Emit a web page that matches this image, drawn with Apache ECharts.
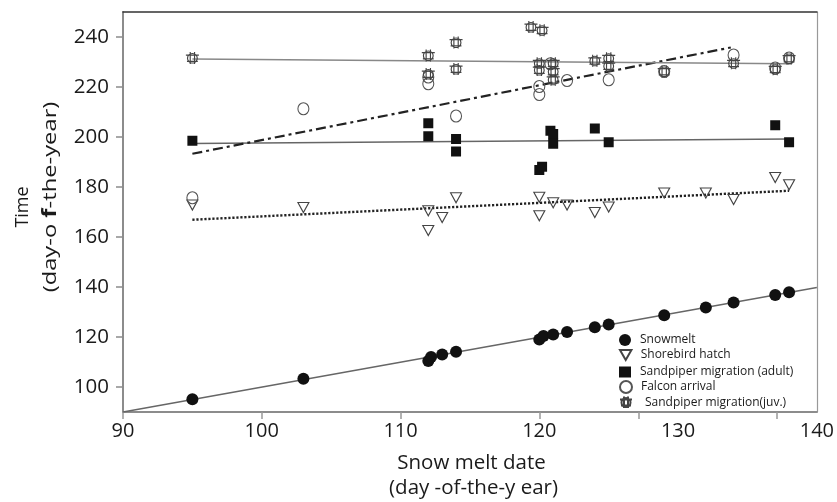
<!DOCTYPE html>
<html><head><meta charset="utf-8">
<script src="https://cdn.jsdelivr.net/npm/echarts@6/dist/echarts.min.js"></script>
<style>html,body{margin:0;padding:0;background:#fff}#c{width:837px;height:502px}</style>
</head><body><div id="c"></div>
<script>
// ---- data ----
const xTickValues = [90, 100, 110, 120, 127.2, 137.1];
const yTickValues = [100, 120, 140, 160, 180, 200, 220, 240];

const seriesNames = ['Snowmelt', 'Shorebird hatch', 'Sandpiper migration (adult)', 'Falcon arrival', 'Sandpiper migration(juv.)'];

const snowX = [95, 103, 112, 112.2, 113, 114, 120, 120.3, 121, 122, 124, 125, 129, 132, 134, 137, 138];
const snowY = [95.1, 103.3, 110.4, 112, 113, 114.1, 119, 120.4, 121, 122, 123.9, 125, 128.7, 131.8, 133.8, 136.8, 137.9];

const hatchX = [95, 103, 112, 112, 113, 114, 120, 120, 121, 122, 124, 125, 129, 132, 134, 137, 138];
const hatchY = [172.8, 171.8, 170.5, 162.6, 167.8, 175.7, 175.9, 168.5, 173.7, 172.8, 169.8, 172, 177.6, 177.6, 175, 183.8, 180.9];

const adultX = [95, 112, 112, 114, 114, 120, 120.2, 120.8, 121, 121, 124, 125, 137, 138];
const adultY = [198.5, 205.5, 200.3, 199.2, 194.2, 186.8, 188.1, 202.5, 201.2, 197.3, 203.4, 197.9, 204.7, 197.9];

const falconX = [95, 103, 112, 112, 114, 120, 120, 120.8, 122, 125, 129, 134, 137, 138];
const falconY = [175.7, 211.3, 224, 221.3, 208.4, 220.2, 217, 229.3, 222.6, 222.9, 226.2, 232.8, 227.6, 231.6];

const juvX = [95, 112, 112, 114, 114, 119.4, 120.2, 120, 120, 121, 121, 121, 124, 125, 125, 129, 134, 137, 138];
const juvY = [231.6, 232.6, 225.2, 237.8, 227.2, 244, 242.7, 229.5, 226.8, 229.5, 226.2, 222.9, 230.5, 231.5, 228.4, 226.2, 229.5, 227.1, 231.4];

// fitted lines: [x0, x1], [y0, y1]
const snowFitX = [90, 140],   snowFitY = [90, 139.8];
const hatchFitX = [95, 138],  hatchFitY = [166.9, 178.5];
const adultFitX = [95, 138],  adultFitY = [197.4, 199.2];
const falconFitX = [95, 133.8], falconFitY = [193.3, 235.8];
const juvFitX = [95, 138],    juvFitY = [231.2, 229.3];

// ---- build ----
const zip = (xs, ys) => xs.map((x, i) => [x, ys[i]]);
const FONT = '"Open Sans", "Noto Sans", sans-serif';
const juvPath = 'path://M1.5,6.5A4.5,4.5 0 1,0 10.5,6.5A4.5,4.5 0 1,0 1.5,6.5Z M0,3.5L12,3.5 M4,0.5L4,12 M8,0.5L8,12 M1,9.5L11,9.5';
const triDownPath = 'path://M0,0L12,0L6,10.5Z';

function fit(name, xs, ys, color, width, type) {
  return { name: name, type: 'line', data: zip(xs, ys), symbol: 'none', silent: true, z: 1,
    lineStyle: { color: color, width: width, type: type, cap: 'butt' } };
}

const chart = echarts.init(document.getElementById('c'), null, { renderer: 'canvas' });
const legendTops = [334, 349, 366, 380, 395.5];
const legendPad = [4, 4, 4, 4, 8];
const legendIconH = [12, 10, 11, 12, 12];

chart.setOption({
  animation: false,
  backgroundColor: '#fff',
  grid: { left: 123, right: 17, top: 12, bottom: 90 },
  legend: seriesNames.map((n, i) => ({
    data: [n], left: 619, top: legendTops[i], padding: 0, itemWidth: 12, itemHeight: legendIconH[i],
    selectedMode: false,
    textStyle: { fontFamily: FONT, fontSize: 12, color: '#1a1a1a', padding: [0, 0, 0, legendPad[i]] }
  })),
  xAxis: [{
    type: 'value', min: 90, max: 140, interval: 10,
    axisLine: { onZero: false, lineStyle: { color: '#8c8c8c', width: 2 } },
    axisTick: { customValues: xTickValues, length: 7, lineStyle: { color: '#999', width: 1.5 } },
    axisLabel: { fontFamily: FONT, fontSize: 20, color: '#1a1a1a', margin: 9 },
    splitLine: { show: false }
  }, {
    type: 'value', position: 'top', min: 90, max: 140,
    axisLine: { onZero: false, lineStyle: { color: '#333', width: 1.5 } },
    axisTick: { show: false }, axisLabel: { show: false }, splitLine: { show: false }
  }],
  yAxis: [{
    type: 'value', min: 90, max: 250, interval: 10,
    axisLine: { onZero: false, lineStyle: { color: '#8c8c8c', width: 2 } },
    axisTick: { customValues: yTickValues, length: 7, lineStyle: { color: '#8c8c8c', width: 1.5 } },
    axisLabel: { customValues: yTickValues, fontFamily: FONT, fontSize: 20.5, color: '#1a1a1a', margin: 14 },
    splitLine: { show: false }
  }, {
    type: 'value', position: 'right', min: 90, max: 250,
    axisLine: { onZero: false, lineStyle: { color: '#999', width: 1.2 } },
    axisTick: { show: false }, axisLabel: { show: false }, splitLine: { show: false }
  }],
  graphic: [
    { type: 'text', x: 23, y: 207, rotation: Math.PI / 2,
      style: { text: 'Time', font: '18px ' + FONT, fill: '#1a1a1a', textAlign: 'center', textVerticalAlign: 'middle', align: 'center', verticalAlign: 'middle' } },
    { type: 'text', x: 51, y: 197, rotation: Math.PI / 2, scaleX: 1.25,
      style: { text: '{a|(day-o }{b|f}{a|-the-year)}', fill: '#1a1a1a', textAlign: 'center', textVerticalAlign: 'middle', align: 'center', verticalAlign: 'middle',
        rich: { a: { fontFamily: FONT, fontSize: 19, fill: '#1a1a1a' }, b: { fontFamily: FONT, fontSize: 19, fontWeight: 'bold', fill: '#1a1a1a' } } } },
    { type: 'text', x: 471.5, y: 463,
      style: { text: 'Snow melt date', font: '20.5px ' + FONT, fill: '#1a1a1a', textAlign: 'center', textVerticalAlign: 'middle', align: 'center', verticalAlign: 'middle' } },
    { type: 'text', x: 473.5, y: 488,
      style: { text: '(day -of-the-y ear)', font: '20.5px ' + FONT, fill: '#1a1a1a', textAlign: 'center', textVerticalAlign: 'middle', align: 'center', verticalAlign: 'middle' } }
  ],
  series: [
    fit('fit-snow', snowFitX, snowFitY, '#666', 1.3, 'solid'),
    fit('fit-hatch', hatchFitX, hatchFitY, '#222', 2.4, [2.2, 1.8]),
    fit('fit-adult', adultFitX, adultFitY, '#666', 1.3, 'solid'),
    fit('fit-falcon', falconFitX, falconFitY, '#222', 2.2, [10, 4, 3, 4]),
    fit('fit-juv', juvFitX, juvFitY, '#888', 1.3, 'solid'),
    { name: seriesNames[0], type: 'scatter', data: zip(snowX, snowY), symbol: 'circle', symbolSize: 12, z: 3,
      itemStyle: { color: '#111', opacity: 1 } },
    { name: seriesNames[1], type: 'scatter', data: zip(hatchX, hatchY), symbol: triDownPath, symbolSize: [11, 10], symbolKeepAspect: false, z: 3,
      itemStyle: { color: 'rgba(255,255,255,0)', borderColor: '#444', borderWidth: 1.1, opacity: 1 } },
    { name: seriesNames[2], type: 'scatter', data: zip(adultX, adultY), symbol: 'rect', symbolSize: 10, z: 3,
      itemStyle: { color: '#111', opacity: 1 } },
    { name: seriesNames[3], type: 'scatter', data: zip(falconX, falconY), symbol: 'circle', symbolSize: [11, 12], z: 3,
      itemStyle: { color: 'rgba(255,255,255,0)', borderColor: '#555', borderWidth: 1.1, opacity: 1 } },
    { name: seriesNames[4], type: 'scatter', data: zip(juvX, juvY), symbol: juvPath, symbolSize: [13, 12], symbolKeepAspect: false, z: 3,
      itemStyle: { color: 'rgba(255,255,255,0)', borderColor: '#444', borderWidth: 1.1, opacity: 1 } }
  ]
});
</script>
</body></html>
